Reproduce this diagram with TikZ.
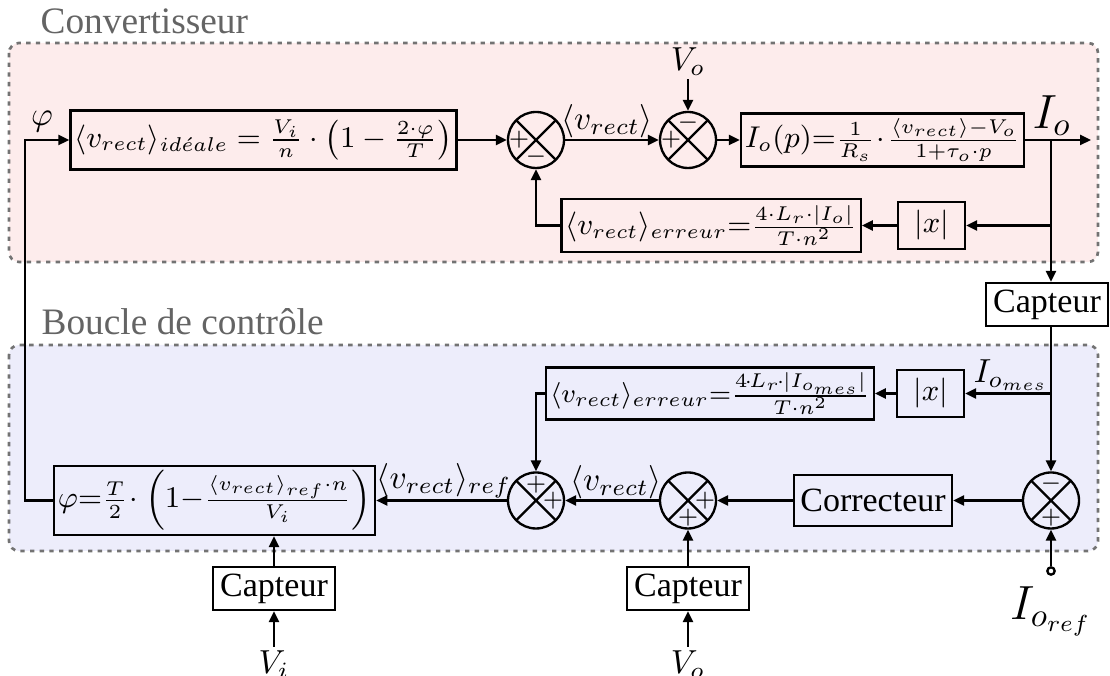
\documentclass[tikz,border=0pt]{standalone}
\usepackage[no-math]{fontspec}
\setmainfont{Liberation Serif}
\usetikzlibrary{arrows.meta,calc}
\definecolor{pinkbg}{RGB}{253,236,236}
\definecolor{bluebg}{RGB}{237,237,251}
\definecolor{titlegray}{RGB}{100,100,100}
\definecolor{dashgray}{RGB}{115,115,115}
\tikzset{
  region/.style={draw=dashgray, line width=0.8pt, dash pattern=on 1.3pt off 1.6pt, rounded corners=3pt},
  regiontitle/.style={anchor=base west, inner sep=0pt, text=titlegray, font=\fontsize{11.2}{13}\selectfont},
  blk/.style={draw, line width=0.7pt, inner sep=1.2pt, align=center, font=\fontsize{9}{11}\selectfont},
  capbox/.style={draw, line width=0.7pt, fill=white, minimum width=36.6pt, minimum height=12.9pt, inner sep=1pt, font=\fontsize{10.2}{12}\selectfont},
  sumn/.style={circle, draw, line width=0.7pt, minimum size=16.8pt, inner sep=0pt,
    path picture={\draw[line width=0.7pt] (path picture bounding box.north west) -- (path picture bounding box.south east)
      (path picture bounding box.north east) -- (path picture bounding box.south west);}},
  sgn/.style={inner sep=0pt, font=\fontsize{7.5}{8}\selectfont},
  arr/.style={line width=0.7pt, -{Triangle[length=3.3pt,width=3pt]}},
  lbl/.style={inner sep=0pt, font=\fontsize{9.8}{11}\selectfont}
}
\begin{document}
\begin{tikzpicture}[x=0.3pt,y=-0.3pt]
\useasboundingbox (0,0) rectangle (1110,676);
% regions
\draw[region, fill=pinkbg] (9,43) rectangle (1098,262);
\draw[region, fill=bluebg] (9,345) rectangle (1098,551);
\node[regiontitle] (tconv) at (40,34) {Convertisseur};
\node[regiontitle] (tboucle) at (41,335) {Boucle de contrôle};

% top row
\node[blk, minimum width=114.3pt, minimum height=17.7pt] (box1) at (263.5,140)
  {$\langle v_{rect}\rangle_{id\acute{e}ale} = \frac{V_i}{n}\cdot\left(1-\frac{2\cdot\varphi}{T}\right)$};
\node[sumn] (s1) at (536,140) {};
\node[sumn] (s2) at (688,140) {};
\node[blk, minimum width=81.9pt, minimum height=15.9pt] (box2) at (882.5,140)
  {$I_o(p){=}\frac{1}{R_s}\mkern1mu{\cdot}\mkern1mu\frac{\langle v_{rect}\rangle{-}V_o}{1{+}\tau_o{\cdot}p}$};
\node[blk, minimum width=89.4pt, minimum height=15.9pt] (box3) at (711,225.5)
  {$\langle v_{rect}\rangle_{erreur}{=}\frac{4{\cdot}L_r{\cdot}|I_o|}{T{\cdot}n^2}$};
\node[blk, minimum width=20.1pt, minimum height=14.1pt] (abs1) at (931.5,225.5) {$|x|$};
\node[lbl, inner sep=0.8pt, font=\normalsize] (Vt) at (688,62) {$V_o$};
\node[lbl, font=\normalsize] (phi) at (42,122) {$\varphi$};
\node[lbl] (vr1) at (607,121) {$\langle v_{rect}\rangle$};
\node[lbl, font=\Large] (Io) at (1052,116) {$I_o$};
\coordinate (j1) at (1051,140);
\coordinate (j2) at (1051,225.5);
\coordinate (out) at (1091,140);
\coordinate (lc1) at (25,140);
\coordinate (lc2) at (25,500.5);

% signs top
\node[sgn] (s1a) at ($(s1)+(-17,0)$) {$+$};
\node[sgn] (s1b) at ($(s1)+(0,17)$) {$-$};
\node[sgn] (s2a) at ($(s2)+(0,-17)$) {$-$};
\node[sgn] (s2b) at ($(s2)+(-17,0)$) {$+$};

% right capteur
\node[capbox] (capR) at (1047,304.5) {Capteur};

% bottom part
\node[blk, minimum width=90.6pt, minimum height=15.6pt, font=\fontsize{8.4}{10}\selectfont] (box4) at (710,393.5)
  {$\langle v_{rect}\rangle_{erreur}{=}\frac{4\mkern-2mu{\cdot}\mkern-2mu L_r\mkern-2mu{\cdot}\mkern-1mu|I_{o_{mes}}\mkern-1mu|}{T{\cdot}n^2}$};
\node[blk, minimum width=20.1pt, minimum height=14.1pt] (abs2) at (930.5,393.5) {$|x|$};
\node[lbl] (Iomes) at (1011,375) {$I_{o_{mes}}$};
\node[sumn] (s3) at (1051,500.5) {};
\node[capbox, minimum width=47.4pt, minimum height=15.3pt, fill=none] (corr) at (873,500.5) {Correcteur};
\node[sumn] (s4) at (688,500.5) {};
\node[sumn] (s5) at (536,500.5) {};
\node[lbl] (vr2) at (616,482) {$\langle v_{rect}\rangle$};
\node[lbl] (vref) at (444,481) {$\langle v_{rect}\rangle_{ref}$};
\node[blk, minimum width=93.3pt, minimum height=20.7pt] (box5) at (214.5,500.5)
  {$\varphi{=}\frac{T}{2}\mkern1mu{\cdot}\mkern1mu\left(1{-}\frac{\langle v_{rect}\rangle_{ref}\cdot n}{V_i}\right)$};
\node[capbox] (capL) at (274,588.5) {Capteur};
\node[capbox] (capM) at (688,588.5) {Capteur};
\node[lbl, inner sep=1pt, anchor=north, font=\normalsize] (Vi) at (274,647) {$V_i$};
\node[lbl, inner sep=1pt, anchor=north, font=\normalsize] (Vb) at (688,647) {$V_o$};
\node[circle, draw, line width=0.7pt, fill=white, minimum size=2.2pt, inner sep=0pt] (iref) at (1051,571) {};
\node[lbl, anchor=north, font=\Large] (Ireflbl) at (1051,586) {$I_{o_{ref}}$};
\coordinate (j3) at (1051,393.5);

% signs bottom
\node[sgn] (s3a) at ($(s3)+(0,-17)$) {$-$};
\node[sgn] (s3b) at ($(s3)+(0,17)$) {$+$};
\node[sgn] (s4a) at ($(s4)+(17,0)$) {$+$};
\node[sgn] (s4b) at ($(s4)+(0,17)$) {$+$};
\node[sgn] (s5a) at ($(s5)+(0,-16)$) {$+$};
\node[sgn] (s5b) at ($(s5)+(17,0)$) {$+$};

% connectors top
\draw[arr] (box5.west) -- (lc2) -- (lc1) -- (box1.west);
\draw[arr] (box1.east) -- (s1.west);
\draw[arr] (s1.east) -- (s2.west);
\draw[arr] (Vt.south) -- (s2.north);
\draw[arr] (s2.east) -- (box2.west);
\draw[arr] (box2.east) -- (out);
\draw[arr] (j1) -- (capR.north -| j1);
\draw[arr] (j2) -- (abs1.east);
\draw[arr] (abs1.west) -- (box3.east);
\draw[arr] (box3.west) -| (s1.south);

% connectors bottom
\draw[arr] (capR.south -| j1) -- (s3.north);
\draw[arr] (j3) -- (abs2.east);
\draw[arr] (abs2.west) -- (box4.east);
\draw[arr] (box4.west) -| (s5.north);
\draw[arr] (s3.west) -- (corr.east);
\draw[arr] (corr.west) -- (s4.east);
\draw[arr] (s4.west) -- (s5.east);
\draw[arr] (s5.west) -- (box5.east);
\draw[arr] (capM.north) -- (s4.south);
\draw[arr] (Vb.north) -- (capM.south);
\draw[arr] (capL.north) -- (capL.north |- box5.south);
\draw[arr] (Vi.north) -- (capL.south);
\draw[arr] (iref.north) -- (s3.south);
\end{tikzpicture}
\end{document}
